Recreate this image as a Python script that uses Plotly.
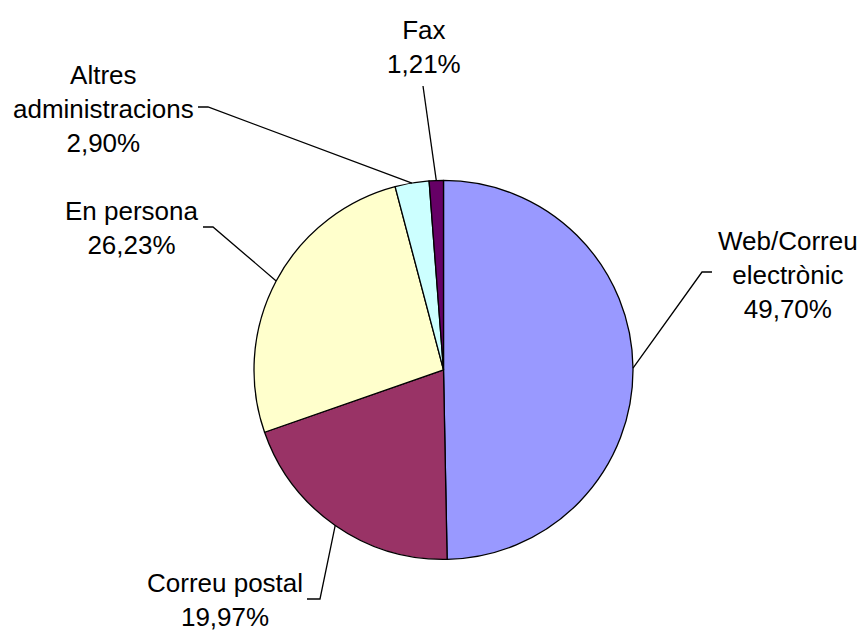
import math
import plotly.graph_objects as go

# Canals d'entrada (percentatges)
categories = ["Web/Correu electrònic", "Correu postal", "En persona",
              "Altres administracions", "Fax"]
values = [49.70, 19.97, 26.23, 2.90, 1.21]
label_lines = [["Web/Correu", "electrònic"], ["Correu postal"], ["En persona"],
               ["Altres", "administracions"], ["Fax"]]
colors = ["#9999FF", "#993366", "#FFFFCC", "#CCFFFF", "#660066"]

W, H = 867, 633
CX, CY, R = 443.5, 369.9, 189.5   # pie centre and radius, in pixels

# label block centres and leader-line elbows (pixels, y measured from top)
label_pos = [(788, 275), (225, 600), (132, 228), (103, 109), (423.5, 47)]
leader_start = [[(712, 272), (702, 272)],
                [(307, 599), (320, 599)],
                [(203, 227), (213, 227)],
                [(198, 107), (208, 107)],
                [(423, 86)]]


def px(x, y):
    return x / W, 1 - y / H


fig = go.Figure(go.Pie(
    labels=categories,
    values=values,
    sort=False,
    direction="clockwise",
    rotation=0,
    marker=dict(colors=colors, line=dict(color="black", width=1.3)),
    textinfo="none",
    hoverinfo="label+percent",
    showlegend=False,
    domain=dict(x=[(CX - R) / W, (CX + R) / W],
                y=[(H - CY - R) / H, (H - CY + R) / H]),
))

total = sum(values)
cum = 0.0
shapes = []
annotations = []
for i, v in enumerate(values):
    theta = 2 * math.pi * (cum + v / 2) / total
    cum += v
    ex = CX + R * math.sin(theta)
    ey = CY - R * math.cos(theta)
    pts = leader_start[i] + [(ex, ey)]
    path = ""
    for j, (x, y) in enumerate(pts):
        X, Y = px(x, y)
        path += ("M" if j == 0 else " L") + f"{X:.5f},{Y:.5f}"
    shapes.append(dict(type="path", xref="paper", yref="paper", path=path,
                       line=dict(color="black", width=1.3)))
    text = "<br>".join(label_lines[i] + [f"{v:.2f}".replace(".", ",") + "%"])
    lx, ly = px(*label_pos[i])
    annotations.append(dict(x=lx, y=ly, xref="paper", yref="paper", text=text,
                            showarrow=False, xanchor="center", yanchor="middle",
                            align="center",
                            font=dict(family="Liberation Sans, Arial", size=26,
                                      color="black")))

fig.update_layout(
    width=W, height=H,
    margin=dict(l=0, r=0, t=0, b=0),
    paper_bgcolor="white", plot_bgcolor="white",
    shapes=shapes, annotations=annotations,
)

fig.write_html("out.html")
